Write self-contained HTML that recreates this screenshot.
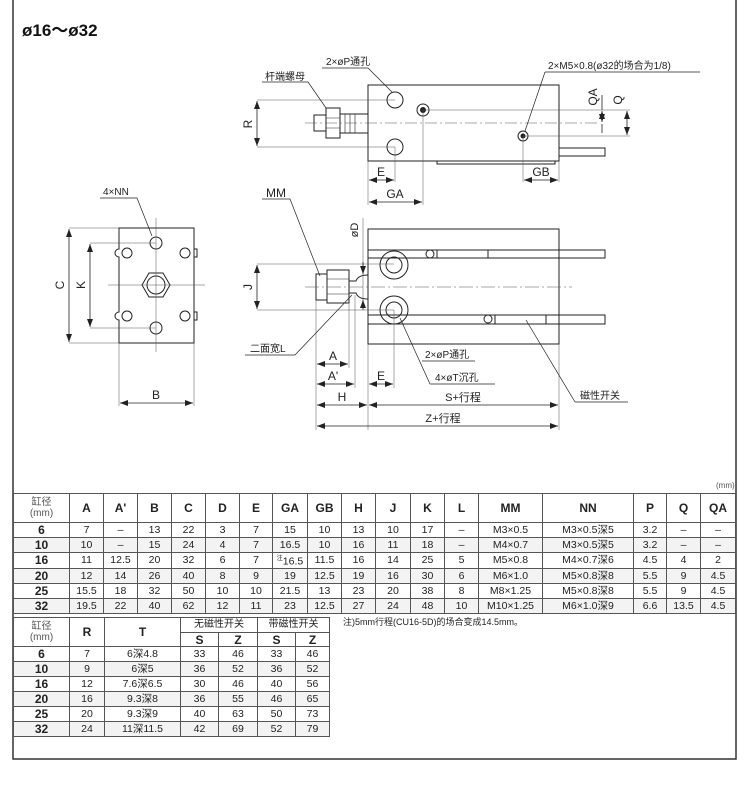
<!DOCTYPE html>
<html><head><meta charset="utf-8"><style>
body{margin:0;background:#fff;width:750px;height:794px;overflow:hidden;position:relative;font-family:"Liberation Sans","Noto Sans CJK SC",sans-serif;color:#222}
table{position:absolute;border-collapse:collapse;table-layout:fixed;font-size:10.5px}
td{border:1px solid #555;text-align:center;padding:0;line-height:12px;white-space:nowrap;overflow:hidden}
td.h{font-weight:bold;font-size:12px}
td.g{color:#555;font-size:10px;line-height:11px}
td.b{font-weight:bold;font-size:12px}
tr.s td{background:#f3f3f3}
svg{position:absolute;left:0;top:0}
</style></head><body>
<svg width="750" height="794" viewBox="0 0 750 794" font-family="Liberation Sans, Noto Sans CJK SC, sans-serif" fill="none" stroke="#222">
<defs><marker id="a" markerWidth="8" markerHeight="6" refX="8" refY="3" orient="auto-start-reverse" markerUnits="userSpaceOnUse"><path d="M0,0L8,3L0,6z" fill="#222" stroke="none"/></marker></defs>
<!-- frame -->
<path d="M13,0V759H736V0" stroke="#333" stroke-width="1.5"/>
<text x="22" y="36" font-size="17" font-weight="bold" fill="#111" stroke="none">ø16～ø32</text>
<text x="716" y="488" font-size="8" fill="#555" stroke="none">(mm)</text>

<!-- TOP VIEW -->
<g stroke-width="1">
<rect x="368" y="85" width="191" height="76"/>
<path d="M437,161V164H555V161" />
<rect x="559" y="148" width="46" height="8"/>
<circle cx="395" cy="100" r="8"/><circle cx="395" cy="147" r="8"/>
<circle cx="423" cy="110" r="6"/><circle cx="423" cy="110" r="2.5" fill="#222"/>
<circle cx="523" cy="136" r="5"/><circle cx="523" cy="136" r="2" fill="#222"/>
<path d="M340,114H368V133H340" /><path d="M345,114V133M350,114V133M355,114V133" stroke-width="0.6"/>
<rect x="326" y="108" width="14" height="30"/><path d="M326,118H340M326,128H340" stroke-width="0.6"/>
<rect x="314" y="115" width="12" height="16"/>
</g>
<g stroke-width="0.5" stroke="#555">
<path d="M305,123H600" stroke-dasharray="12,3,2,3"/>
<path d="M257,100H395M257,147H395M423,110H630M523,136H630M423,110V205M395,147V182M368,161V205M523,136V182M559,161V182"/>
</g>
<g stroke-width="0.8">
<path d="M257,101V146" marker-start="url(#a)" marker-end="url(#a)"/>
<path d="M602,111V122" marker-start="url(#a)" marker-end="url(#a)"/>
<path d="M602,95V110M602,124V133"/>
<path d="M627,111V135" marker-start="url(#a)" marker-end="url(#a)"/>
<path d="M369,180H394" marker-start="url(#a)" marker-end="url(#a)"/>
<path d="M369,202H422" marker-start="url(#a)" marker-end="url(#a)"/>
<path d="M524,180H558" marker-start="url(#a)" marker-end="url(#a)"/>
<path d="M262,82H308L326,108M322,68H368L392,92M545,72H700M545,72L525,131" stroke-width="0.7"/>
</g>
<g fill="#222" stroke="none" font-size="11">
<text x="252" y="124" transform="rotate(-90 252 124)" text-anchor="middle" font-size="12">R</text>
<text x="597" y="97" transform="rotate(-90 597 97)" text-anchor="middle" font-size="12">QA</text>
<text x="622" y="100" transform="rotate(-90 622 100)" text-anchor="middle" font-size="12">Q</text>
<text x="381" y="176" text-anchor="middle" font-size="12">E</text>
<text x="395" y="198" text-anchor="middle" font-size="12">GA</text>
<text x="541" y="176" text-anchor="middle" font-size="12">GB</text>
<text x="265" y="80" font-size="10">杆端螺母</text>
<text x="326" y="65" font-size="10">2×øP通孔</text>
<text x="548" y="69" font-size="10">2×M5×0.8(ø32的场合为1/8)</text>
</g>

<!-- FRONT VIEW -->
<g stroke-width="1">
<path d="M119,228H194V343H119V320a4,4 0 0 1 0,-8V257a4,4 0 0 1 0,-8Z"/>
<circle cx="156" cy="243" r="6"/><circle cx="156" cy="328" r="6"/>
<circle cx="127" cy="253" r="5"/><circle cx="127" cy="316" r="5"/>
<circle cx="185" cy="253" r="5"/><circle cx="185" cy="316" r="5"/>
<path d="M194,249h3v8h-3M194,312h3v8h-3"/>
<polygon points="170,285 163,297 149,297 142,285 149,273 163,273"/>
<circle cx="156" cy="285" r="9"/>
</g>
<g stroke-width="0.5" stroke="#555">
<path d="M156,218V352M108,285H205M69,228H119M69,343H119M90,243H156M90,328H156M119,343V406M194,343V406"/>
</g>
<g stroke-width="0.8">
<path d="M69,229V342" marker-start="url(#a)" marker-end="url(#a)"/>
<path d="M90,244V327" marker-start="url(#a)" marker-end="url(#a)"/>
<path d="M120,403H193" marker-start="url(#a)" marker-end="url(#a)"/>
<path d="M100,198H137L152,236" stroke-width="0.7"/>
</g>
<g fill="#222" stroke="none" font-size="12">
<text x="64" y="285" transform="rotate(-90 64 285)" text-anchor="middle">C</text>
<text x="85" y="285" transform="rotate(-90 85 285)" text-anchor="middle">K</text>
<text x="156" y="399" text-anchor="middle">B</text>
<text x="103" y="195" font-size="10">4×NN</text>
</g>

<!-- SIDE VIEW -->
<g stroke-width="1">
<rect x="368" y="229" width="191" height="115"/>
<path d="M368,250H605V258H368M368,315H605V324H368"/>
<circle cx="430" cy="254" r="4"/><rect x="437" y="250" width="51" height="8" fill="#fff"/>
<circle cx="488" cy="319" r="4"/><rect x="495" y="315" width="51" height="9" fill="#fff"/>
<circle cx="394" cy="265" r="14"/><circle cx="394" cy="265" r="8"/>
<circle cx="394" cy="310" r="14"/><circle cx="394" cy="310" r="8"/>
<rect x="327" y="270" width="22" height="33"/><path d="M327,279H349M327,294H349" stroke-width="0.6"/>
<rect x="316" y="274" width="11" height="26"/>
<path d="M349,281H356Q358,275 368,275M349,293H356Q358,299 368,299"/>
</g>
<g stroke-width="0.5" stroke="#555">
<path d="M305,287H572" stroke-dasharray="14,3,2,3"/>
<path d="M257,264H394M257,310H394M316,300V430M349,303V368M355,295V388M368,344V430M394,310V388M559,344V430M363,218V300"/>
</g>
<g stroke-width="0.8">
<path d="M257,265V309" marker-start="url(#a)" marker-end="url(#a)"/>
<path d="M363,262V274" marker-end="url(#a)"/><path d="M363,310V300" marker-end="url(#a)"/>
<path d="M317,364H348" marker-start="url(#a)" marker-end="url(#a)"/>
<path d="M317,384H354" marker-start="url(#a)" marker-end="url(#a)"/>
<path d="M317,405H367" marker-start="url(#a)" marker-end="url(#a)"/>
<path d="M369,384H393" marker-start="url(#a)" marker-end="url(#a)"/>
<path d="M369,405H558" marker-start="url(#a)" marker-end="url(#a)"/>
<path d="M317,426H558" marker-start="url(#a)" marker-end="url(#a)"/>
<path d="M262,199H290L320,276M245,355H295L352,295M422,361H475M430,384H495M430,384L400,318M575,402H628M575,402L526,320" stroke-width="0.7"/>
</g>
<g fill="#222" stroke="none" font-size="12">
<text x="252" y="287" transform="rotate(-90 252 287)" text-anchor="middle">J</text>
<text x="358" y="230" transform="rotate(-90 358 230)" text-anchor="middle" font-size="11">øD</text>
<text x="333" y="360" text-anchor="middle">A</text>
<text x="333" y="380" text-anchor="middle">A'</text>
<text x="342" y="401" text-anchor="middle">H</text>
<text x="381" y="380" text-anchor="middle">E</text>
<text x="463" y="401" text-anchor="middle" font-size="11">S+行程</text>
<text x="443" y="422" text-anchor="middle" font-size="11">Z+行程</text>
<text x="266" y="197" font-size="12">MM</text>
<text x="250" y="352" font-size="10">二面宽L</text>
<text x="425" y="358" font-size="10">2×øP通孔</text>
<text x="435" y="381" font-size="10">4×øT沉孔</text>
<text x="580" y="399" font-size="10">磁性开关</text>
</g>
<text x="343" y="625" font-size="9" fill="#222" stroke="none">注)5mm行程(CU16-5D)的场合变成14.5mm。</text>
</svg>

<table style="left:13px;top:493px;width:723px">
<colgroup><col style="width:56px"><col style="width:34px"><col style="width:34px"><col style="width:34px"><col style="width:34px"><col style="width:34px"><col style="width:33px"><col style="width:35px"><col style="width:34px"><col style="width:34px"><col style="width:35px"><col style="width:34px"><col style="width:34px"><col style="width:64px"><col style="width:91px"><col style="width:33px"><col style="width:34px"><col style="width:35px"></colgroup>
<tr style="height:29px"><td class="g">缸径<br>(mm)</td><td class="h">A</td><td class="h">A'</td><td class="h">B</td><td class="h">C</td><td class="h">D</td><td class="h">E</td><td class="h">GA</td><td class="h">GB</td><td class="h">H</td><td class="h">J</td><td class="h">K</td><td class="h">L</td><td class="h">MM</td><td class="h">NN</td><td class="h">P</td><td class="h">Q</td><td class="h">QA</td></tr>
<tr style="height:15px"><td class="b">6</td><td>7</td><td>–</td><td>13</td><td>22</td><td>3</td><td>7</td><td>15</td><td>10</td><td>13</td><td>10</td><td>17</td><td>–</td><td>M3×0.5</td><td>M3×0.5深5</td><td>3.2</td><td>–</td><td>–</td></tr>
<tr style="height:15px" class="s"><td class="b">10</td><td>10</td><td>–</td><td>15</td><td>24</td><td>4</td><td>7</td><td>16.5</td><td>10</td><td>16</td><td>11</td><td>18</td><td>–</td><td>M4×0.7</td><td>M3×0.5深5</td><td>3.2</td><td>–</td><td>–</td></tr>
<tr style="height:15px"><td class="b">16</td><td>11</td><td>12.5</td><td>20</td><td>32</td><td>6</td><td>7</td><td><sup style="font-size:6px">注</sup>16.5</td><td>11.5</td><td>16</td><td>14</td><td>25</td><td>5</td><td>M5×0.8</td><td>M4×0.7深6</td><td>4.5</td><td>4</td><td>2</td></tr>
<tr style="height:15px" class="s"><td class="b">20</td><td>12</td><td>14</td><td>26</td><td>40</td><td>8</td><td>9</td><td>19</td><td>12.5</td><td>19</td><td>16</td><td>30</td><td>6</td><td>M6×1.0</td><td>M5×0.8深8</td><td>5.5</td><td>9</td><td>4.5</td></tr>
<tr style="height:15px"><td class="b">25</td><td>15.5</td><td>18</td><td>32</td><td>50</td><td>10</td><td>10</td><td>21.5</td><td>13</td><td>23</td><td>20</td><td>38</td><td>8</td><td>M8×1.25</td><td>M5×0.8深8</td><td>5.5</td><td>9</td><td>4.5</td></tr>
<tr style="height:15px" class="s"><td class="b">32</td><td>19.5</td><td>22</td><td>40</td><td>62</td><td>12</td><td>11</td><td>23</td><td>12.5</td><td>27</td><td>24</td><td>48</td><td>10</td><td>M10×1.25</td><td>M6×1.0深9</td><td>6.6</td><td>13.5</td><td>4.5</td></tr>
</table>

<table style="left:13px;top:617px;width:316px">
<colgroup><col style="width:56px"><col style="width:35px"><col style="width:76px"><col style="width:38px"><col style="width:39px"><col style="width:38px"><col style="width:34px"></colgroup>
<tr style="height:15px"><td class="g" rowspan="2">缸径<br>(mm)</td><td class="h" rowspan="2">R</td><td class="h" rowspan="2">T</td><td colspan="2" style="font-size:10px">无磁性开关</td><td colspan="2" style="font-size:10px">带磁性开关</td></tr>
<tr style="height:14px"><td class="h">S</td><td class="h">Z</td><td class="h">S</td><td class="h">Z</td></tr>
<tr style="height:15px"><td class="b">6</td><td>7</td><td>6深4.8</td><td>33</td><td>46</td><td>33</td><td>46</td></tr>
<tr style="height:15px" class="s"><td class="b">10</td><td>9</td><td>6深5</td><td>36</td><td>52</td><td>36</td><td>52</td></tr>
<tr style="height:15px"><td class="b">16</td><td>12</td><td>7.6深6.5</td><td>30</td><td>46</td><td>40</td><td>56</td></tr>
<tr style="height:15px" class="s"><td class="b">20</td><td>16</td><td>9.3深8</td><td>36</td><td>55</td><td>46</td><td>65</td></tr>
<tr style="height:15px"><td class="b">25</td><td>20</td><td>9.3深9</td><td>40</td><td>63</td><td>50</td><td>73</td></tr>
<tr style="height:15px" class="s"><td class="b">32</td><td>24</td><td>11深11.5</td><td>42</td><td>69</td><td>52</td><td>79</td></tr>
</table>
</body></html>
